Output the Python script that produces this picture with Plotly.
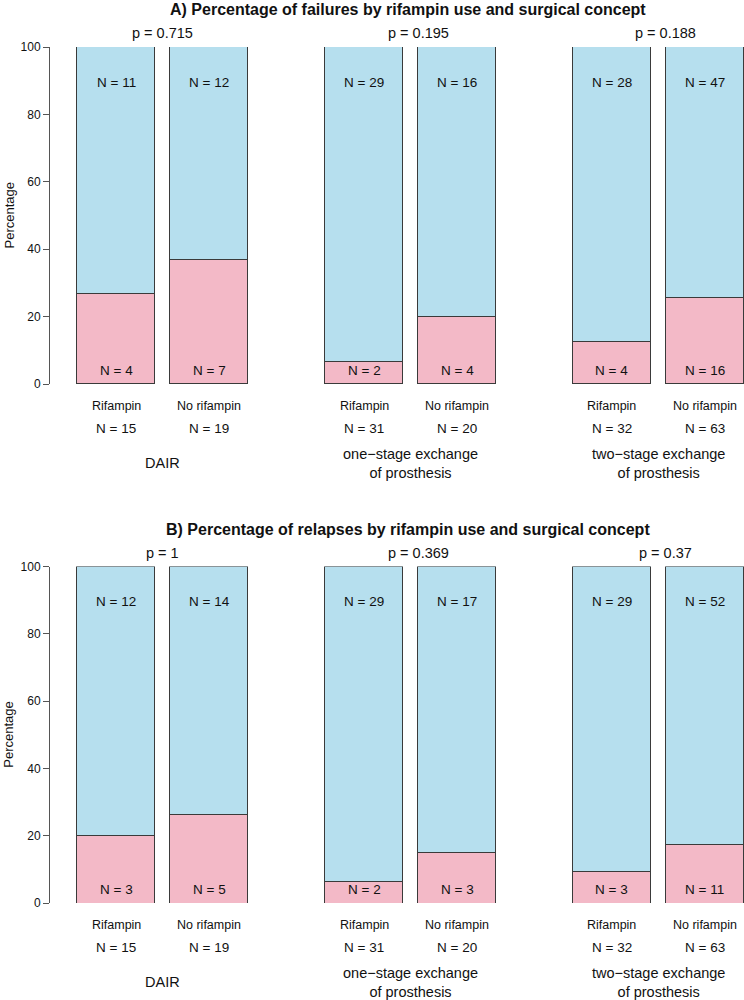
import plotly.graph_objects as go

# ---- data ----
groups = ["DAIR", "one\u2212stage exchange<br>of prosthesis", "two\u2212stage exchange<br>of prosthesis"]
arms = ["Rifampin", "No rifampin"]
totals = [15, 19, 31, 20, 32, 63]
failures = [4, 7, 2, 4, 4, 16]
failure_ok = [11, 12, 29, 16, 28, 47]
relapses = [3, 5, 2, 3, 3, 11]
relapse_ok = [12, 14, 29, 17, 29, 52]
p_fail = ["0.715", "0.195", "0.188"]
p_rel = ["1", "0.369", "0.37"]
titles = ["A) Percentage of failures by rifampin use and surgical concept",
          "B) Percentage of relapses by rifampin use and surgical concept"]

# bar positions (R barplot style: unit spacing within a group, wider gap between groups)
xpos = [0, 1, 2.667, 3.667, 5.333, 6.333]
group_centers = [0.5, 3.167, 5.833]
p_label_x = [0.5, 3.25, 5.91]

PINK = "#F3B9C7"
BLUE = "#B6DFEE"
EDGE = "#3a3a3a"
TXT = "#111111"
FONT = "Liberation Sans, Arial, sans-serif"
W, H = 744, 1000

fig = go.Figure()

panels = [
    dict(bad=failures, ok=failure_ok, p=p_fail, title=titles[0], top=47, bot=384),
    dict(bad=relapses, ok=relapse_ok, p=p_rel, title=titles[1], top=566.5, bot=903),
]

def py(pix):
    return 1 - pix / H

def ann(**kw):
    d = dict(showarrow=False, xanchor="center", yanchor="middle")
    d.update(kw)
    return d

x_range = [(0 - 116) / 93, (744 - 116) / 93]
annotations = []
for i, pnl in enumerate(panels):
    xa = "x" if i == 0 else "x2"
    ya = "y" if i == 0 else "y2"
    pct_bad = [b / t * 100 for b, t in zip(pnl["bad"], totals)]
    pct_ok = [100 - v for v in pct_bad]
    fig.add_trace(go.Bar(x=xpos, y=pct_bad, width=0.839,
                         marker=dict(color=PINK, line=dict(color=EDGE, width=1)),
                         xaxis=xa, yaxis=ya, showlegend=False, hoverinfo="skip"))
    fig.add_trace(go.Bar(x=xpos, y=pct_ok, width=0.839,
                         marker=dict(color=BLUE, line=dict(color=EDGE, width=1)),
                         xaxis=xa, yaxis=ya, showlegend=False, hoverinfo="skip"))
    bot = pnl["bot"]
    top = pnl["top"]
    for k, x in enumerate(xpos):
        annotations.append(ann(x=x, y=89.5, xref=xa, yref=ya, text=f"N = {pnl['ok'][k]}",
                               font=dict(size=13.5, color=TXT, family=FONT)))
        annotations.append(ann(x=x, y=4, xref=xa, yref=ya, text=f"N = {pnl['bad'][k]}",
                               font=dict(size=13.5, color=TXT, family=FONT)))
        annotations.append(ann(x=x, y=py(bot + 21.5), xref=xa, yref="paper", text=arms[k % 2],
                               font=dict(size=12.5, color=TXT, family=FONT)))
        annotations.append(ann(x=x, y=py(bot + 44.5), xref=xa, yref="paper", text=f"N = {totals[k]}",
                               font=dict(size=13.5, color=TXT, family=FONT)))
    for g, cx in enumerate(group_centers):
        annotations.append(ann(x=p_label_x[g], y=py(top - 13.5), xref=xa, yref="paper",
                               text=f"p = {pnl['p'][g]}", font=dict(size=14.5, color=TXT, family=FONT)))
        annotations.append(ann(x=cx, y=py(bot + 79), xref=xa, yref="paper", text=groups[g],
                               font=dict(size=14.5, color=TXT, family=FONT)))
    annotations.append(ann(x=407.5 / W, y=py(top - 37.5), xref="paper", yref="paper",
                           text=f"<b>{pnl['title']}</b>", font=dict(size=16, color=TXT, family=FONT)))
    annotations.append(ann(x=9 / W, y=py((top + bot) / 2), xref="paper", yref="paper",
                           text="Percentage", textangle=-90, font=dict(size=13, color=TXT, family=FONT)))

def yax(top, bot):
    return dict(domain=[py(bot), py(top)], range=[0, 100], anchor="free", position=49 / W,
                tickvals=[0, 20, 40, 60, 80, 100], ticks="outside", ticklen=6, tickcolor="#555",
                showline=True, linecolor="#555", linewidth=1, showgrid=False, zeroline=False,
                tickfont=dict(size=12, color=TXT, family=FONT), fixedrange=True, automargin=False)

def xax():
    return dict(domain=[0, 1], range=x_range, visible=False, fixedrange=True, automargin=False)

fig.update_layout(
    width=W, height=H, margin=dict(l=0, r=0, t=0, b=0, pad=0, autoexpand=False),
    paper_bgcolor="white", plot_bgcolor="white",
    barmode="stack", bargap=0,
    xaxis=xax(), xaxis2=xax(),
    yaxis=yax(panels[0]["top"], panels[0]["bot"]),
    yaxis2=yax(panels[1]["top"], panels[1]["bot"]),
    annotations=annotations,
)

post = ("document.body.style.margin='0';document.body.style.overflow='hidden';"
        "var d=document.getElementById('{plot_id}');d.style.position='fixed';d.style.top='0';d.style.left='0';")
fig.write_html("out.html", post_script=post, config={"displayModeBar": False})
